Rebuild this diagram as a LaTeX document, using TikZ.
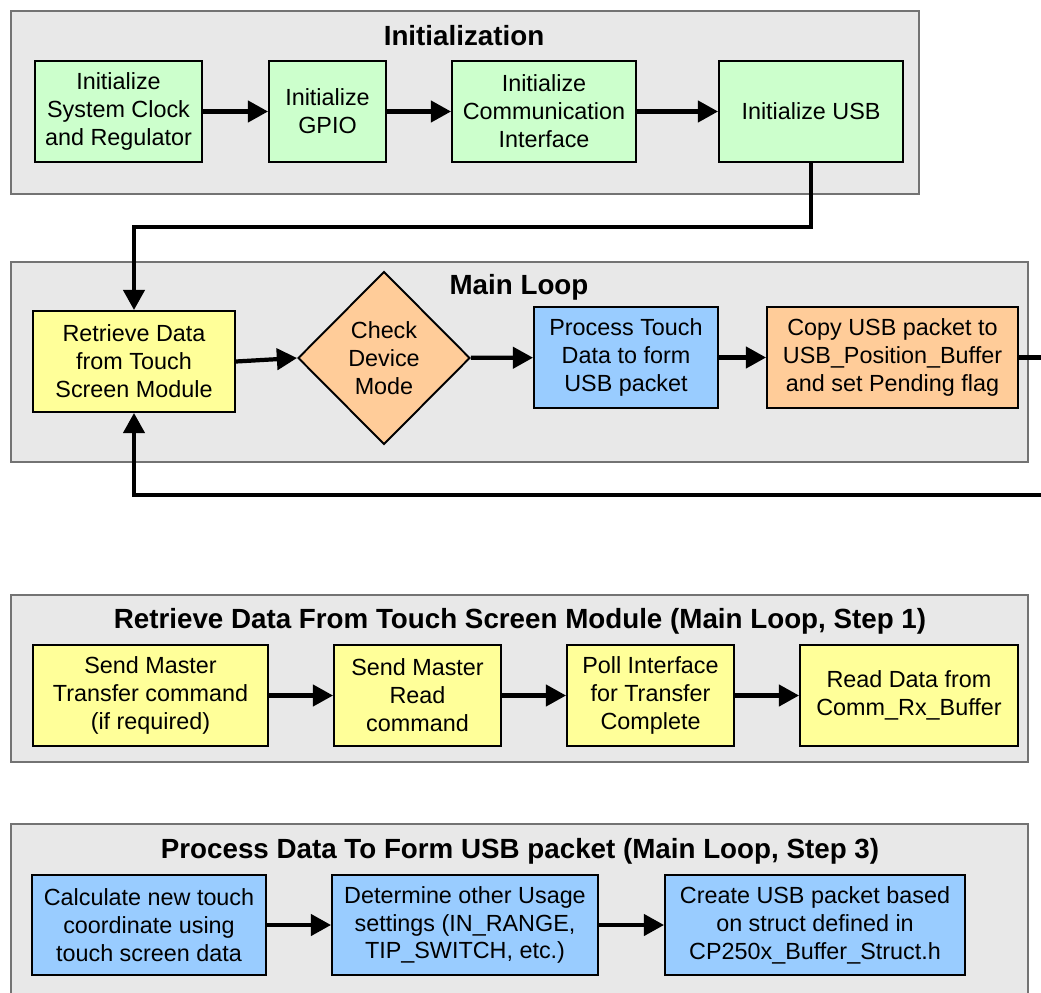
\documentclass[tikz,border=0pt]{standalone}
\usepackage{fontspec}
\setmainfont{Liberation Sans}
\usepackage{tikz}
\usetikzlibrary{arrows.meta,shapes.geometric}

\definecolor{panelgray}{HTML}{E8E8E8}
\definecolor{initgreen}{HTML}{CCFFCC}
\definecolor{stepyellow}{HTML}{FFFF99}
\definecolor{procblue}{HTML}{99CCFF}
\definecolor{modeorange}{HTML}{FFCC99}

\tikzset{
  panel/.style={draw=black!55, fill=panelgray, line width=0.6pt},
  paneltitle/.style={font=\fontsize{15.8}{18}\selectfont\bfseries},
  box/.style={draw, line width=1.1pt, align=center, inner sep=0pt,
    minimum height=2.02cm, font=\fontsize{13.3}{15.9}\selectfont},
  flow/.style={line width=2.4pt, -{Triangle[length=11.5pt,width=12pt]}},
}

\begin{document}
\begin{tikzpicture}[x=0.02cm, y=-0.02cm]
  \clip (0,0) rectangle (1041,993);

  \draw[panel] (11,11) rectangle (919,194);
  \draw[panel] (11,262) rectangle (1028,462);
  \draw[panel] (11,595) rectangle (1028,762);
  \draw[panel] (11,824) rectangle (1028,1010);

  \node[paneltitle] (tinit) at (464,36) {Initialization};
  \node[paneltitle] (tmain) at (519,287) {Main Loop};
  \node[paneltitle] (tstep1) at (520,621) {Retrieve Data From Touch Screen Module (Main Loop, Step 1)};
  \node[paneltitle] (tstep3) at (520,851) {Process Data To Form USB packet (Main Loop, Step 3)};

  \node[box, fill=initgreen, minimum width=3.34cm] (clk) at (118.5,111.5) {Initialize\\System Clock\\and Regulator};
  \node[box, fill=initgreen, minimum width=2.34cm] (gpio) at (327.5,111.5) {Initialize\\GPIO};
  \node[box, fill=initgreen, minimum width=3.68cm] (comm) at (544,111.5) {Initialize\\Communication\\Interface};
  \node[box, fill=initgreen, minimum width=3.68cm] (usb) at (811,111.5) {Initialize USB};

  \node[box, fill=stepyellow, minimum width=4.04cm] (getdata) at (134,361.5) {Retrieve Data\\from Touch\\Screen Module};
  \node[box, diamond, fill=modeorange, minimum width=3.44cm, minimum height=3.46cm] (mode) at (384,358) {Check\\Device\\Mode};
  \node[box, fill=procblue, minimum width=3.68cm] (proc) at (626,357.5) {Process Touch\\Data to form\\USB packet};
  \node[box, fill=modeorange, minimum width=5.02cm] (copy) at (892.5,357.5) {Copy USB packet to\\USB\_Position\_Buffer\\and set Pending flag};

  \node[box, fill=stepyellow, minimum width=4.70cm] (send) at (150.5,695.5) {Send Master\\Transfer command\\(if required)};
  \node[box, fill=stepyellow, minimum width=3.34cm] (read) at (417.5,695.5) {Send Master\\Read\\command};
  \node[box, fill=stepyellow, minimum width=3.34cm] (poll) at (650.5,695.5) {Poll Interface\\for Transfer\\Complete};
  \node[box, fill=stepyellow, minimum width=4.36cm] (rxbuf) at (909,695.5) {Read Data from\\Comm\_Rx\_Buffer};

  \node[box, fill=procblue, minimum width=4.68cm, minimum height=2cm] (calc) at (149,925) {Calculate new touch\\coordinate using\\touch screen data};
  \node[box, fill=procblue, minimum width=5.32cm, minimum height=2cm] (usage) at (465,925) {Determine other Usage\\settings (IN\_RANGE,\\TIP\_SWITCH, etc.)};
  \node[box, fill=procblue, minimum width=6.00cm, minimum height=2cm] (create) at (815,925) {Create USB packet based\\on struct defined in\\CP250x\_Buffer\_Struct.h};

  \coordinate (jog) at (134,227);
  \coordinate (loopout) at (1060,357.5);
  \coordinate (loopdown) at (1060,495);

  \draw[flow] (clk) -- (gpio);
  \draw[flow] (gpio) -- (comm);
  \draw[flow] (comm) -- (usb);
  \draw[flow] (usb.south) |- (jog) -- (getdata.north);

  \draw[flow] (getdata.east) -- (mode.west);
  \draw[flow] (mode) -- (proc);
  \draw[flow] (proc) -- (copy);
  \draw[flow] (copy.east) -- (loopout) -- (loopdown) -| (getdata.south);

  \draw[flow] (send) -- (read);
  \draw[flow] (read) -- (poll);
  \draw[flow] (poll) -- (rxbuf);

  \draw[flow] (calc) -- (usage);
  \draw[flow] (usage) -- (create);
\end{tikzpicture}
\end{document}
